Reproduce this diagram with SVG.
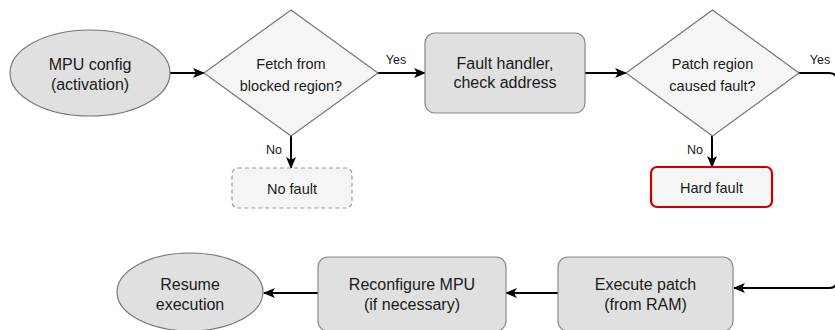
<svg xmlns="http://www.w3.org/2000/svg" width="835" height="330" viewBox="0 0 835 330">
  <defs>
    <marker id="arrow" viewBox="0 0 12 10" refX="11" refY="5" markerWidth="12" markerHeight="10" markerUnits="userSpaceOnUse" orient="auto">
      <path d="M0,0 L12,5 L0,10 L3,5 Z" fill="#000"/>
    </marker>
  </defs>
  <style>
    .term { fill: #e0e0e0; stroke: #777; stroke-width: 1.2; }
    .proc { fill: #e0e0e0; stroke: #888; stroke-width: 1.2; }
    .dec { fill: #f5f5f5; stroke: #777; stroke-width: 1.2; }
    .nofault { fill: #f5f5f5; stroke: #999; stroke-width: 1.2; stroke-dasharray: 4 3; }
    .hard { fill: #f5f5f5; stroke: #cc0000; stroke-width: 2.2; }
    .edge { fill: none; stroke: #000; stroke-width: 2; marker-end: url(#arrow); }
    text { font-family: "Liberation Sans", Arial, sans-serif; fill: #1a1a1a; text-anchor: middle; }
    .big { font-size: 16px; }
    .mid { font-size: 14.5px; }
    .lbl { font-size: 12.5px; }
  </style>

  <g id="connectors">
    <path class="edge" d="M170,73 H204"/>
    <path class="edge" d="M378,73 H425"/>
    <path class="edge" d="M585,73 H626"/>
    <path class="edge" d="M291,136 V168"/>
    <path class="edge" d="M712,136 V167"/>
    <!-- Yes branch runs along the right margin down to the patch step -->
    <path class="edge" d="M799,73 H829 Q837,73 837,81 V280 Q837,288 829,288 H734"/>
    <path class="edge" d="M558,293 H506"/>
    <path class="edge" d="M318,293 H264"/>
    <text class="lbl" x="396" y="64">Yes</text>
    <text class="lbl" x="820" y="64">Yes</text>
    <text class="lbl" x="274" y="154">No</text>
    <text class="lbl" x="695" y="154">No</text>
  </g>

  <g id="mpu-config">
    <ellipse class="term" cx="90" cy="73" rx="80" ry="43"/>
    <text class="big" x="90" y="70">MPU config</text>
    <text class="big" x="90" y="90">(activation)</text>
  </g>

  <g id="fetch-blocked">
    <polygon class="dec" points="291,10 378,73 291,136 204,73"/>
    <text class="mid" x="291" y="68.5">Fetch from</text>
    <text class="mid" x="291" y="91">blocked region?</text>
  </g>

  <g id="no-fault">
    <rect class="nofault" x="232" y="168" width="120" height="40" rx="6"/>
    <text class="mid" x="292" y="193.5">No fault</text>
  </g>

  <g id="fault-handler">
    <rect class="proc" x="425" y="33" width="160" height="80" rx="10"/>
    <text class="big" x="505" y="69">Fault handler,</text>
    <text class="big" x="505" y="88">check address</text>
  </g>

  <g id="patch-region">
    <polygon class="dec" points="712.5,10 799,73 712.5,136 626,73"/>
    <text class="mid" x="712.5" y="68.5">Patch region</text>
    <text class="mid" x="712.5" y="91">caused fault?</text>
  </g>

  <g id="hard-fault">
    <rect class="hard" x="651" y="167" width="121" height="40" rx="6"/>
    <text class="mid" x="711.5" y="193">Hard fault</text>
  </g>

  <g id="execute-patch">
    <rect class="proc" x="558" y="257" width="175" height="74" rx="10"/>
    <text class="big" x="645.5" y="290">Execute patch</text>
    <text class="big" x="645.5" y="310">(from RAM)</text>
  </g>

  <g id="reconfigure-mpu">
    <rect class="proc" x="318" y="257" width="188" height="74" rx="10"/>
    <text class="big" x="412" y="290">Reconfigure MPU</text>
    <text class="big" x="412" y="310">(if necessary)</text>
  </g>

  <g id="resume-execution">
    <ellipse class="term" cx="190" cy="292" rx="73" ry="39"/>
    <text class="big" x="190" y="290">Resume</text>
    <text class="big" x="190" y="310">execution</text>
  </g>
</svg>
